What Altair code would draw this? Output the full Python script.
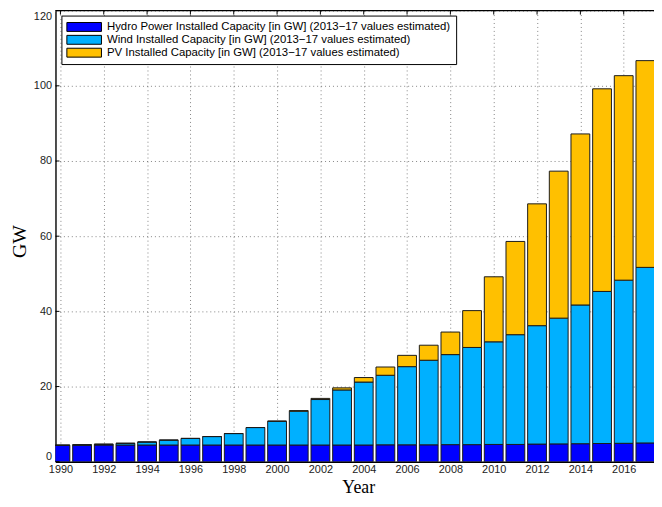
import altair as alt
import pandas as pd

years = list(range(1990, 2018))
hydro = [4.35, 4.4, 4.45, 4.45, 4.45, 4.45, 4.45, 4.45, 4.45, 4.45,
         4.45, 4.45, 4.45, 4.45, 4.45, 4.5, 4.5, 4.5, 4.55, 4.55,
         4.6, 4.6, 4.7, 4.75, 4.8, 4.85, 4.9, 5.0]
wind = [0.05, 0.1, 0.2, 0.45, 0.8, 1.3, 1.75, 2.25, 3.05, 4.65,
        6.3, 9.0, 12.1, 14.65, 16.75, 18.5, 20.8, 22.5, 23.95, 25.85,
        27.3, 29.2, 31.5, 33.45, 36.9, 40.45, 43.4, 46.7]
pv = [0, 0, 0, 0, 0, 0, 0, 0, 0, 0,
      0.08, 0.15, 0.3, 0.55, 1.2, 2.2, 3.0, 4.0, 6.0, 9.8,
      17.3, 24.8, 32.4, 39.1, 45.5, 53.9, 54.4, 55.0]

series = ["Hydro Power Installed Capacity [in GW] (2013\u221217 values estimated)",
          "Wind Installed Capacity [in GW] (2013\u221217 values estimated)",
          "PV Installed Capacity [in GW] (2013\u221217 values estimated)"]
colors = ["#0000FF", "#00B0FF", "#FFC000"]

x_ticks = [1990, 1992, 1994, 1996, 1998, 2000, 2002, 2004, 2006, 2008, 2010, 2012, 2014, 2016]
y_ticks = [0, 20, 40, 60, 80, 100, 120]

rows = []
for i, yr in enumerate(years):
    for k, vals in enumerate([hydro, wind, pv]):
        rows.append({"Year": yr, "Series": series[k], "Value": vals[i], "k": k})
df = pd.DataFrame(rows)

W, H = 605, 456
x_scale = alt.Scale(domain=[1990, 2017.17], nice=False, zero=False)
y_scale = alt.Scale(domain=[0, 120], nice=False)

x_axis = alt.Axis(values=x_ticks, format="d", title="Year", labelFlush=False, labelOverlap=False,
                  ticks=False, tickSize=0, labelPadding=2, labelFontSize=11, labelFont="Liberation Sans",
                  labelColor="#222222", titleFont="Liberation Serif", titleFontSize=18, titleFontWeight="normal",
                  titleColor="black", titleX=306, titleY=31, titleBaseline="alphabetic", titleAlign="center",
                  domainColor="black", domainWidth=1.6, grid=True, gridDash=[1, 3], gridColor="#666666",
                  gridWidth=1, gridOpacity=0.8)
y_axis = alt.Axis(values=y_ticks, format="d", title="GW", labelOverlap=False, labelFlush=True,
                  ticks=False, tickSize=0, labelPadding=4, labelFontSize=11, labelFont="Liberation Sans",
                  labelColor="#222222", titleFont="Liberation Serif", titleFontSize=20, titleFontWeight="normal",
                  titleColor="black", titleX=-30, titleY=233, titleAngle=270, titleBaseline="alphabetic",
                  titleAlign="center", domainColor="black", domainWidth=1.4, grid=True, gridDash=[1, 3],
                  gridColor="#666666", gridWidth=1, gridOpacity=0.8)

bars = alt.Chart(df).mark_bar(size=19, stroke="#1a1a1a", strokeWidth=1, clip=True).encode(
    x=alt.X("Year:Q", scale=x_scale, axis=x_axis),
    y=alt.Y("Value:Q", stack="zero", scale=y_scale, axis=y_axis),
    color=alt.Color("Series:N", scale=alt.Scale(domain=series, range=colors),
                    legend=alt.Legend(title=None, orient="none", legendX=6, legendY=5, direction="vertical",
                                      symbolType="M-1,-0.75L4.83,-0.75L4.83,0.75L-1,0.75Z", symbolSize=144,
                                      symbolStrokeColor="black", symbolStrokeWidth=1, symbolOpacity=1,
                                      labelFont="Liberation Sans", labelFontSize=11.5, labelColor="black",
                                      labelOffset=28, labelLimit=600, padding=5, rowPadding=0,
                                      strokeColor="black", fillColor="white")),
    order=alt.Order("k:Q", sort="ascending"),
)

top_line = alt.Chart(pd.DataFrame({"a": [0]})).mark_rule(color="black", strokeWidth=1.5).encode(
    x=alt.value(0), x2=alt.value(W), y=alt.value(0))

top_ticks = alt.Chart(pd.DataFrame({"Year": x_ticks})).mark_rule(color="black", strokeWidth=1).encode(
    x=alt.X("Year:Q", scale=x_scale, axis=x_axis), y=alt.value(0), y2=alt.value(4))

left_ticks = alt.Chart(pd.DataFrame({"Value": y_ticks})).mark_rule(color="black", strokeWidth=1).encode(
    y=alt.Y("Value:Q", scale=y_scale, axis=y_axis), x=alt.value(0), x2=alt.value(4))

chart = alt.layer(bars, top_ticks, left_ticks, top_line).properties(
    width=W, height=H,
    autosize=alt.AutoSizeParams(type="none"),
    padding={"left": 48, "top": 0, "right": 0, "bottom": 35},
    background="white",
).configure_view(stroke=None)

chart.save("out.html", embed_options={"renderer": "svg", "actions": False})
